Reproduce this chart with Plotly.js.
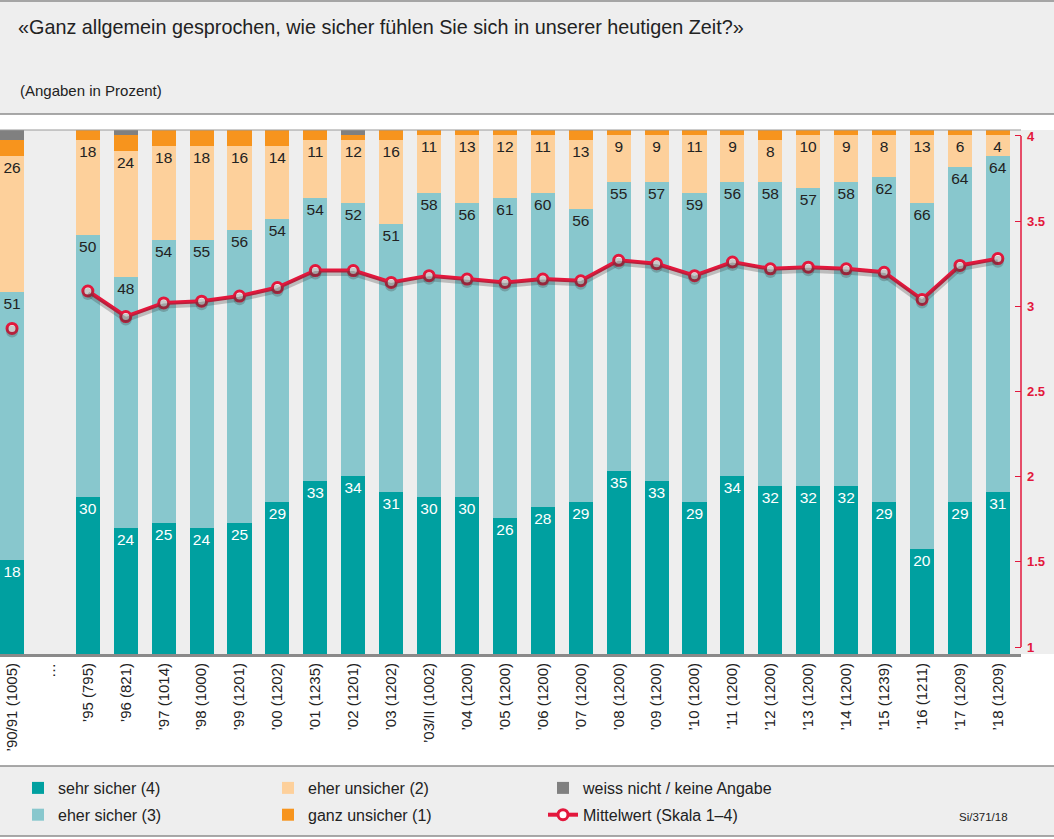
<!DOCTYPE html>
<html><head><meta charset="utf-8">
<script src="https://cdn.plot.ly/plotly-3.0.1.min.js"></script>
<style>html,body{margin:0;padding:0;background:#fff;} #chart{width:1054px;height:839px;}</style>
</head><body><div id="chart"></div>
<script>
const categories = ["’90/91 (1005)","…","’95 (795)","’96 (821)","’97 (1014)","’98 (1000)","’99 (1201)","’00 (1202)","’01 (1235)","’02 (1201)","’03 (1202)","’03/II (1002)","’04 (1200)","’05 (1200)","’06 (1200)","’07 (1200)","’08 (1200)","’09 (1200)","’10 (1200)","’11 (1200)","’12 (1200)","’13 (1200)","’14 (1200)","’15 (1239)","’16 (1211)","’17 (1209)","’18 (1209)"];
const sehrSicher   = [18,null,30,24,25,24,25,29,33,34,31,30,30,26,28,29,35,33,29,34,32,32,32,29,20,29,31];
const eherSicher   = [51,null,50,48,54,55,56,54,54,52,51,58,56,61,60,56,55,57,59,56,58,57,58,62,66,64,64];
const eherUnsicher = [26,null,18,24,18,18,16,14,11,12,16,11,13,12,11,13,9,9,11,9,8,10,9,8,13,6,4];
const ganzUnsicher = [3,null,2,3,3,3,3,3,2,1,2,1,1,1,1,2,1,1,1,1,2,1,1,1,1,1,1];
const weissNicht   = [2,null,0,1,0,0,0,0,0,1,0,0,0,0,0,0,0,0,0,0,0,0,0,0,0,0,0];
const mittelwert   = [2.87,null,3.09,2.94,3.02,3.03,3.06,3.11,3.21,3.21,3.14,3.18,3.16,3.14,3.16,3.15,3.27,3.25,3.18,3.26,3.22,3.23,3.22,3.20,3.04,3.24,3.28];
const rightTicks = [1,1.5,2,2.5,3,3.5,4];

const FONT = "Liberation Sans, Arial, Helvetica, sans-serif";
const C = {sehr:'#00a0a0', eher:'#88c7cd', unsich:'#fdd09b', ganz:'#f7941d', wn:'#808080', red:'#e3173c'};
const lbl = a => a.map(v => (v ? String(v) : ''));

function barTrace(name, vals, color, textColor, legend, grp, showText){
  return {type:'bar', name:name, x:categories, y:vals, marker:{color:color, line:{width:0}},
    text: showText ? lbl(vals) : undefined, textposition: showText ? 'inside' : 'none',
    insidetextanchor:'end', textangle:0, constraintext:'none',
    textfont:{family:FONT, size:15.5, color:textColor},
    legend:legend, legendgroup:grp, hoverinfo:'skip'};
}

const traces = [
  barTrace('sehr sicher (4)', sehrSicher, C.sehr, '#ffffff', 'legend', 'g1', true),
  barTrace('eher sicher (3)', eherSicher, C.eher, '#222222', 'legend', 'g2', true),
  barTrace('eher unsicher (2)', eherUnsicher, C.unsich, '#222222', 'legend2', 'g3', true),
  barTrace('ganz unsicher (1)', ganzUnsicher, C.ganz, '#222222', 'legend2', 'g4', false),
  barTrace('weiss nicht / keine Angabe', weissNicht, C.wn, '#222222', 'legend3', 'g5', false),
  {type:'scatter', mode:'lines+markers', x:categories, y:mittelwert, yaxis:'y3', showlegend:false,
   line:{color:'rgba(60,60,60,0.28)', width:5}, marker:{size:12, color:'rgba(60,60,60,0.28)'},
   connectgaps:false, hoverinfo:'skip'},
  {type:'scatter', mode:'lines+markers', name:'Mittelwert (Skala 1–4)', x:categories, y:mittelwert, yaxis:'y2',
   line:{color:C.red, width:4}, marker:{size:10, color:'#ffffff', line:{color:C.red, width:3}},
   connectgaps:false, legend:'legend3', legendgroup:'g6', hoverinfo:'skip'}
];

const PH = 524, PW = 1021;
const py = px => (654 - px) / PH;
const pxX = px => px / PW;
const legendBase = {orientation:'v', traceorder:'grouped', tracegroupgap:3, bgcolor:'rgba(0,0,0,0)',
  font:{family:FONT, size:16, color:'#222'}, yanchor:'top', xanchor:'left', y:py(771)};

const layout = {
  width:1054, height:839,
  margin:{l:0, r:33, t:130, b:185, pad:0},
  paper_bgcolor:'#ffffff', plot_bgcolor:'#eeeeee',
  barmode:'stack', bargap:0.365,
  font:{family:FONT, color:'#222'},
  title:{text:'«Ganz allgemein gesprochen, wie sicher fühlen Sie sich in unserer heutigen Zeit?»',
    font:{family:FONT, size:19.8, color:'#222'}, xref:'container', x:18/1054, xanchor:'left',
    yref:'container', y:1-27/839, yanchor:'middle'},
  xaxis:{type:'category', categoryorder:'array', categoryarray:categories, range:[-0.317, 26.61],
    tickangle:-90, tickfont:{family:FONT, size:15, color:'#222'}, showline:true, linecolor:'#8a8a8a',
    linewidth:3, ticks:'', showgrid:false, zeroline:false, fixedrange:true},
  yaxis:{range:[0,100], visible:false, fixedrange:true},
  yaxis2:{overlaying:'y', side:'right', range:[0.959, 4.035], tickvals:rightTicks,
    ticktext:rightTicks.map(String), ticks:'inside', ticklen:6, tickcolor:C.red, tickwidth:1,
    ticklabelstandoff:5,
    tickfont:{family:FONT, size:13, color:C.red, weight:'bold'}, showgrid:false, zeroline:false,
    showline:false, fixedrange:true},
  yaxis3:{overlaying:'y', range:[0.959+0.018, 4.035+0.018], visible:false, fixedrange:true},
  legend:Object.assign({}, legendBase, {x:pxX(18)}),
  legend2:Object.assign({}, legendBase, {x:pxX(268)}),
  legend3:Object.assign({}, legendBase, {x:pxX(543)}),
  shapes:[
    {type:'rect', xref:'paper', yref:'paper', x0:0, x1:1054/PW, y0:py(114), y1:py(0), fillcolor:'#eeeeee', line:{width:0}, layer:'below'},
    {type:'rect', xref:'paper', yref:'paper', x0:1, x1:1054/PW, y0:0, y1:1, fillcolor:'#eeeeee', line:{width:0}, layer:'below'},
    {type:'rect', xref:'paper', yref:'paper', x0:0, x1:1054/PW, y0:py(836), y1:py(766), fillcolor:'#eeeeee', line:{width:0}, layer:'below'},
    {type:'line', xref:'paper', yref:'paper', x0:0, x1:1054/PW, y0:py(1), y1:py(1), line:{color:'#8c8c8c', width:1.5}},
    {type:'line', xref:'paper', yref:'paper', x0:0, x1:1054/PW, y0:py(114), y1:py(114), line:{color:'#8c8c8c', width:1.5}},
    {type:'line', xref:'paper', yref:'paper', x0:0, x1:1, y0:1, y1:1, line:{color:'#999999', width:1}},
    {type:'line', xref:'paper', yref:'paper', x0:0, x1:1054/PW, y0:py(766), y1:py(766), line:{color:'#8c8c8c', width:1.5}},
    {type:'line', xref:'paper', yref:'paper', x0:0, x1:1054/PW, y0:py(836), y1:py(836), line:{color:'#8c8c8c', width:1.5}},
    {type:'line', xref:'paper', yref:'y2', x0:1, x1:1, y0:1, y1:4, line:{color:C.red, width:1.5}}
  ],
  annotations:[
    {text:'(Angaben in Prozent)', xref:'paper', yref:'paper', x:pxX(18), y:py(90), xanchor:'left', yanchor:'middle',
     showarrow:false, font:{family:FONT, size:15, color:'#222'}},
    {text:'Si/371/18', xref:'paper', yref:'paper', x:pxX(1010), y:py(817), xanchor:'right', yanchor:'middle',
     showarrow:false, font:{family:FONT, size:11.5, color:'#222'}}
  ]
};

Plotly.newPlot('chart', traces, layout, {staticPlot:true, displayModeBar:false});
</script>
</body></html>
